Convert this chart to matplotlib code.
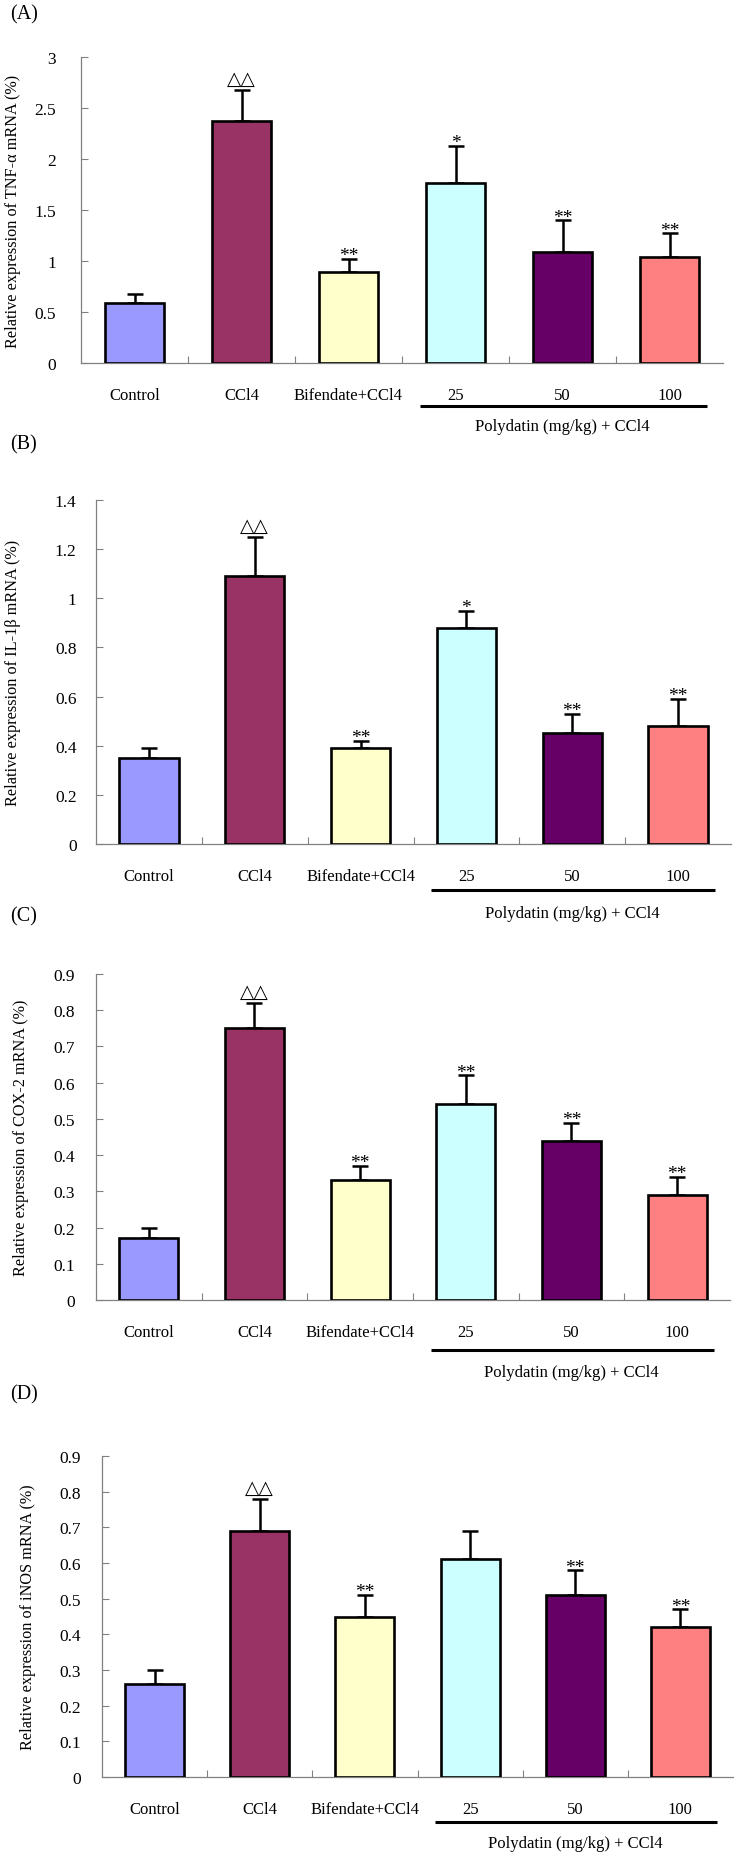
import matplotlib
matplotlib.use("Agg")
import matplotlib.pyplot as plt
import matplotlib.transforms as mtransforms
import numpy as np

plt.rcParams['font.family'] = ['Liberation Serif', 'DejaVu Sans']

groups = ['Control', 'CCl4', 'Bifendate+CCl4', '25', '50', '100']
bar_colors = ['#9999FF', '#993366', '#FFFFCC', '#CCFFFF', '#660066', '#FF8080']
group_label = 'Polydatin (mg/kg) + CCl4'

# mean and upper SD
tnf_mean = [0.59, 2.37, 0.89, 1.76, 1.09, 1.04]
tnf_sd = [0.09, 0.31, 0.13, 0.37, 0.31, 0.23]
tnf_sig = ['', '△△', '**', '*', '**', '**']

il1b_mean = [0.35, 1.09, 0.39, 0.88, 0.45, 0.48]
il1b_sd = [0.04, 0.16, 0.03, 0.07, 0.08, 0.11]
il1b_sig = ['', '△△', '**', '*', '**', '**']

cox2_mean = [0.17, 0.75, 0.33, 0.54, 0.44, 0.29]
cox2_sd = [0.03, 0.07, 0.04, 0.08, 0.05, 0.05]
cox2_sig = ['', '△△', '**', '**', '**', '**']

inos_mean = [0.26, 0.69, 0.45, 0.61, 0.51, 0.42]
inos_sd = [0.04, 0.09, 0.06, 0.08, 0.07, 0.05]
inos_sig = ['', '△△', '**', '', '**', '**']

W, H = 734, 1858
fig = plt.figure(figsize=(W / 100, H / 100), dpi=100)

panels = [
    # tag, ylabel, mean, sd, sig, ymax, ystep, box (l, t, r, b), tag y, ylabel x, ytick pad, line off, text off
    ('(A)', 'Relative expression of TNF-α mRNA (%)', tnf_mean, tnf_sd, tnf_sig, 3.0, 0.5,
     (81, 58, 723, 364), 15, 13, 18, 43, 63),
    ('(B)', 'Relative expression of IL-1β mRNA (%)', il1b_mean, il1b_sd, il1b_sig, 1.4, 0.2,
     (96, 501, 731, 845), 445, 13, 14, 46, 69),
    ('(C)', 'Relative expression of COX-2 mRNA (%)', cox2_mean, cox2_sd, cox2_sig, 0.9, 0.1,
     (96, 975, 730, 1301), 917, 21, 15, 50, 72),
    ('(D)', 'Relative expression of iNOS mRNA (%)', inos_mean, inos_sd, inos_sig, 0.9, 0.1,
     (102, 1457, 733, 1778), 1395, 28, 15, 45, 66),
]

x = np.arange(len(groups)) + 0.5

for tag, ylab, mean, sd, sig, ymax, ystep, box, tag_y, ylab_x, ypad, line_off, text_off in panels:
    l, t, r, b = box
    ax = fig.add_axes([l / W, 1 - b / H, (r - l) / W, (b - t) / H])

    ax.bar(x, mean, width=0.56, color=bar_colors, edgecolor='black', linewidth=1.9, zorder=3)
    ax.errorbar(x, mean, yerr=[np.zeros(len(sd)), sd], fmt='none', ecolor='black',
                elinewidth=1.8, capsize=6, capthick=1.8, zorder=2)

    for xi, m, s, lab in zip(x, mean, sd, sig):
        if not lab:
            continue
        if lab == '*' or lab == '**':
            ax.annotate(lab, (xi, m + s), xytext=(0, -1), textcoords='offset points',
                        ha='center', va='baseline', fontsize=14)
        else:
            ax.annotate(lab, (xi, m + s), xytext=(0, 4), textcoords='offset points',
                        ha='center', va='baseline', fontsize=13.5, family=['DejaVu Sans'])

    ax.set_xlim(0, len(groups))
    ax.set_ylim(0, ymax)
    ticks = np.arange(0, ymax + ystep / 2, ystep)
    ax.set_yticks(ticks)
    ax.set_yticklabels(['%g' % round(v, 2) for v in ticks])
    ax.set_xticks(x)
    ax.set_xticklabels(groups)
    ax.set_xticks(np.arange(1, len(groups)), minor=True)

    ax.tick_params(axis='x', which='major', length=0, pad=17, labelsize=12)
    ax.tick_params(axis='x', which='minor', direction='in', length=5, width=0.8, color='#808080')
    ax.tick_params(axis='y', direction='in', length=5, width=0.8, color='#808080',
                   pad=ypad, labelsize=12.5)

    for side in ['top', 'right']:
        ax.spines[side].set_visible(False)
    for side in ['left', 'bottom']:
        ax.spines[side].set_color('#808080')
        ax.spines[side].set_linewidth(0.9)

    ah = b - t
    trans = mtransforms.blended_transform_factory(ax.transData, ax.transAxes)
    ax.plot([3.17, 5.85], [-line_off / ah, -line_off / ah], color='black', linewidth=2.2,
            transform=trans, clip_on=False, solid_capstyle='butt')
    ax.text(4.5, -text_off / ah, group_label, transform=trans, ha='center', va='center',
            fontsize=12)

    fig.text(ylab_x / W, 1 - (t + b) / 2 / H, ylab, rotation=90, ha='center', va='center',
             fontsize=11.7)
    fig.text(10 / W, 1 - tag_y / H, tag, ha='left', va='center', fontsize=14.5)

fig.savefig('out.png', dpi=100)
